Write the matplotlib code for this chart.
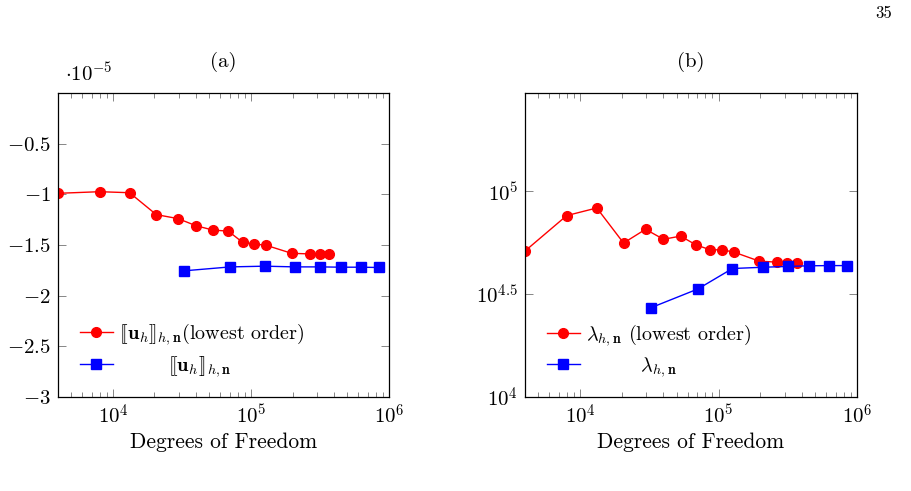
import numpy as np
import matplotlib
matplotlib.use("Agg")
import matplotlib.pyplot as plt
from matplotlib.ticker import FixedLocator, FixedFormatter, LogLocator, NullLocator, NullFormatter

plt.rcParams['font.family'] = 'serif'
plt.rcParams['font.serif'] = ['cmr10']
plt.rcParams['mathtext.fontset'] = 'cm'
plt.rcParams['axes.unicode_minus'] = False

# Degrees of freedom
dof_low = [4000, 8000, 13200, 20600, 29700, 40000, 53200, 68500, 87000,
           106000, 129000, 197000, 266000, 314000, 366000]
dof_high = [32700, 71000, 126000, 209000, 318000, 448000, 625000, 840000]

# (a) jump values, in units of 1e-5
jump_low = [-0.99, -0.974, -0.984, -1.20, -1.24, -1.31, -1.353, -1.363, -1.474,
            -1.49, -1.503, -1.582, -1.588, -1.59, -1.59]
jump_high = [-1.755, -1.716, -1.709, -1.716, -1.716, -1.719, -1.719, -1.722]

# (b) lambda values
lam_low = [51200, 76100, 82900, 56000, 65300, 58400, 60500, 54900, 51900,
           51900, 50600, 45700, 45200, 44900, 44700]
lam_high = [27200, 33500, 42100, 42700, 43100, 43400, 43500, 43500]

yticks_a = [-3, -2.5, -2, -1.5, -1, -0.5]
yticks_b = [1e4, 10**4.5, 1e5]
yticklabels_b = [r'$10^{4}$', r'$10^{4.5}$', r'$10^{5}$']

fs = 15
fig = plt.figure(figsize=(9.12, 4.91), dpi=100)
ax1 = fig.add_axes([58/912, 94/491, 331/912, 304/491])
ax2 = fig.add_axes([525/912, 94/491, 332/912, 304/491])

lw = 1.0
ms = 7
ax1.plot(dof_low, jump_low, color='red', marker='o', ms=ms, lw=lw,
         label=r'$[\![\mathbf{u}_h]\!]_{h,\mathbf{n}}$(lowest order)')
ax1.plot(dof_high, jump_high, color='blue', marker='s', ms=ms, lw=lw,
         label=r'$\hspace{2.8}[\![\mathbf{u}_h]\!]_{h,\mathbf{n}}$')
ax2.plot(dof_low, lam_low, color='red', marker='o', ms=ms, lw=lw,
         label=r'$\lambda_{h,\mathbf{n}}$ (lowest order)')
ax2.plot(dof_high, lam_high, color='blue', marker='s', ms=ms, lw=lw,
         label=r'$\hspace{3.1}\lambda_{h,\mathbf{n}}$')

for ax in (ax1, ax2):
    ax.set_xscale('log')
    ax.set_xlim(4000, 1e6)
    ax.xaxis.set_major_locator(FixedLocator([1e4, 1e5, 1e6]))
    ax.xaxis.set_major_formatter(FixedFormatter([r'$10^{4}$', r'$10^{5}$', r'$10^{6}$']))
    ax.xaxis.set_minor_locator(LogLocator(base=10, subs=np.arange(2, 10)))
    ax.xaxis.set_minor_formatter(NullFormatter())
    ax.tick_params(which='both', direction='in', top=True, right=True,
                   color='0.45', width=0.6, labelsize=fs)
    ax.tick_params(which='major', length=6, pad=5)
    ax.tick_params(which='minor', length=3.5)
    for s in ax.spines.values():
        s.set_linewidth(0.9)
    ax.set_xlabel('Degrees of Freedom', fontsize=15.5, labelpad=3)
    ax.legend(loc='lower left', bbox_to_anchor=(0.065, 0.06), borderaxespad=0,
              borderpad=0, frameon=False, fontsize=14.5, handlelength=1.65,
              handletextpad=0.3, labelspacing=0.35)

ax1.set_ylim(-3, 0)
ax1.yaxis.set_major_locator(FixedLocator(yticks_a))
ax1.yaxis.set_major_formatter(FixedFormatter(['$%g$' % v for v in yticks_a]))
ax1.yaxis.set_minor_locator(NullLocator())
ax1.text(0.02, 1.025, r'$\cdot 10^{-5}$', transform=ax1.transAxes, fontsize=fs,
         ha='left', va='bottom')
ax1.set_title('(a)', fontsize=fs, pad=19)

ax2.set_yscale('log')
ax2.set_ylim(1e4, 3e5)
ax2.yaxis.set_major_locator(FixedLocator(yticks_b))
ax2.yaxis.set_major_formatter(FixedFormatter(yticklabels_b))
ax2.yaxis.set_minor_locator(NullLocator())
ax2.set_title('(b)', fontsize=fs, pad=19)

fig.text(884/912, 1 - 13/491, '35', fontsize=12, ha='center', va='center')

fig.savefig('out.png', dpi=100)
